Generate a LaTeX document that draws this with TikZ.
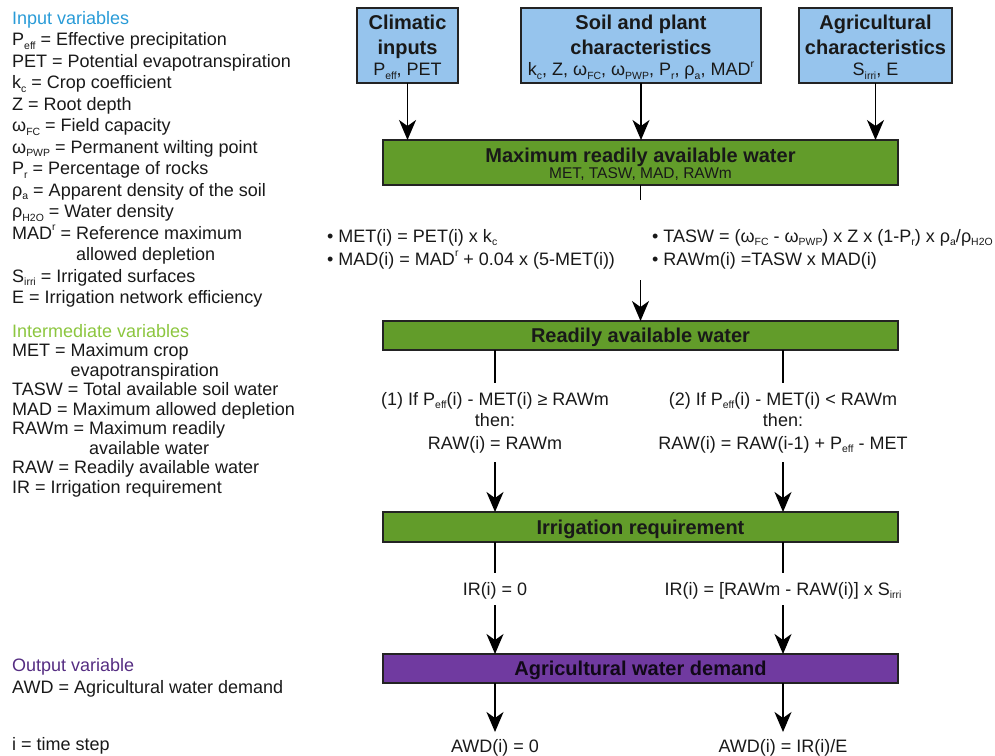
\documentclass[tikz,border=0pt]{standalone}
\usepackage{fontspec}
\usepackage{graphicx}
\setmainfont{Liberation Sans}
\usetikzlibrary{arrows.meta}
\definecolor{titleblue}{RGB}{41,155,215}
\definecolor{titlegreen}{RGB}{140,198,63}
\definecolor{titlepurple}{RGB}{85,45,130}
\definecolor{boxblue}{RGB}{150,196,237}
\definecolor{boxgreen}{RGB}{98,156,42}
\definecolor{boxpurple}{RGB}{112,58,160}
\definecolor{boxline}{RGB}{35,35,35}
\definecolor{txt}{RGB}{25,25,25}
\newcommand\lsub[1]{\raisebox{-0.22em}{\scalebox{0.58}{#1}}}
\newcommand\lsup[1]{\raisebox{0.46em}{\scalebox{0.58}{#1}}}
\newcommand\lrow[3]{\node[lt] (#1) at (12,#2) {#3};}
\begin{document}
\begin{tikzpicture}[x=1pt,y=-1pt,
  lt/.style={anchor=base west,inner sep=0pt,text=txt,font=\fontsize{18}{21}\selectfont},
  ct/.style={anchor=base,inner sep=0pt,text=txt,font=\fontsize{18}{21}\selectfont},
  bt/.style={anchor=base,inner sep=0pt,text=txt,font=\fontsize{20}{24}\selectfont\bfseries},
  flowbox/.style={draw=boxline,line width=1.8pt,inner sep=0pt,outer sep=0pt,anchor=north west},
  ln/.style={line width=1.6pt},
  arr/.style={line width=1.6pt,-{Stealth[length=20pt,width=17pt,inset=6pt]}},
]
\useasboundingbox (0,0) rectangle (995,755);

% ---------- left legend ----------
\lrow{i0}{24}{\color{titleblue}Input variables}
\lrow{i1}{45.5}{P\lsub{eff} = Effective precipitation}
\lrow{i2}{67}{PET = Potential evapotranspiration}
\lrow{i3}{88.5}{k\lsub{c} = Crop coefficient}
\lrow{i4}{110}{Z = Root depth}
\lrow{i5}{131.5}{ω\lsub{FC} = Field capacity}
\lrow{i6}{153}{ω\lsub{PWP} = Permanent wilting point}
\lrow{i7}{174.5}{P\lsub{r} = Percentage of rocks}
\lrow{i8}{196}{ρ\lsub{a} = Apparent density of the soil}
\lrow{i9}{217.5}{ρ\lsub{H2O} = Water density}
\lrow{i10}{239}{MAD\lsup{r} = Reference maximum}
\lrow{i11}{260.5}{\phantom{MAD\lsup{r} = }allowed depletion}
\lrow{i12}{282}{S\lsub{irri} = Irrigated surfaces}
\lrow{i13}{303.5}{E = Irrigation network efficiency}

\lrow{m0}{337}{\color{titlegreen}Intermediate variables}
\lrow{m1}{356.5}{MET = Maximum crop}
\lrow{m2}{376}{\phantom{MET = }evapotranspiration}
\lrow{m3}{395.5}{TASW = Total available soil water}
\lrow{m4}{415}{MAD = Maximum allowed depletion}
\lrow{m5}{434.5}{RAWm = Maximum readily}
\lrow{m6}{454}{\phantom{RAWm = }available water}
\lrow{m7}{473.5}{RAW = Readily available water}
\lrow{m8}{493}{IR = Irrigation requirement}

\lrow{o0}{671}{\color{titlepurple}Output variable}
\lrow{o1}{693}{AWD = Agricultural water demand}
\lrow{o2}{750.5}{i = time step}

% ---------- top boxes ----------
\node[flowbox,fill=boxblue,minimum width=101pt,minimum height=75pt] (clim) at (357,8) {};
\node[flowbox,fill=boxblue,minimum width=240pt,minimum height=75pt] (soil) at (521,8) {};
\node[flowbox,fill=boxblue,minimum width=153pt,minimum height=75pt] (agri) at (799,8) {};

\node[bt] (climA) at (clim.center |- 0,29.5) {Climatic};
\node[bt] (climB) at (clim.center |- 0,54) {inputs};
\node[ct] (climC) at (clim.center |- 0,75.5) {P\lsub{eff}, PET};

\node[bt] (soilA) at (soil.center |- 0,29.5) {Soil and plant};
\node[bt] (soilB) at (soil.center |- 0,54) {characteristics};
\node[ct] (soilC) at (soil.center |- 0,75.5) {k\lsub{c}, Z, ω\lsub{FC}, ω\lsub{PWP}, P\lsub{r}, ρ\lsub{a}, MAD\lsup{r}};

\node[bt] (agriA) at (agri.center |- 0,29.5) {Agricultural};
\node[bt] (agriB) at (agri.center |- 0,54) {characteristics};
\node[ct] (agriC) at (agri.center |- 0,75.5) {S\lsub{irri}, E};

% ---------- process boxes ----------
\node[flowbox,fill=boxgreen,minimum width=515pt,minimum height=45pt] (g1) at (383,140) {};
\node[bt] (g1A) at (g1.center |- 0,162) {Maximum readily available water};
\node[ct,font=\fontsize{15.5}{18}\selectfont] (g1B) at (g1.center |- 0,178.5) {MET, TASW, MAD, RAWm};

\node[flowbox,fill=boxgreen,minimum width=515pt,minimum height=29pt] (g2) at (383,321) {};
\node[bt] (g2A) at (g2.center |- 0,342.5) {Readily available water};

\node[flowbox,fill=boxgreen,minimum width=515pt,minimum height=30pt] (g3) at (383,512) {};
\node[bt] (g3A) at (g3.center |- 0,534) {Irrigation requirement};

\node[flowbox,fill=boxpurple,minimum width=515pt,minimum height=29pt] (pu) at (383,654) {};
\node[bt,text=black!85!boxpurple] (puA) at (pu.center |- 0,675.5) {Agricultural water demand};

% ---------- arrows from inputs ----------
\draw[arr] (clim.south) -- (clim.south |- g1.north);
\draw[arr] (soil.south) -- (soil.south |- g1.north);
\draw[arr] (agri.south) -- (agri.south |- g1.north);

% ---------- equations block ----------
\coordinate (s1) at (g1.south |- 0,200);
\coordinate (s2) at (g1.south |- 0,280);
\draw[ln] (g1.south) -- (s1);
\node[lt] (e1) at (327,242) {• MET(i) = PET(i) x k\lsub{c}};
\node[lt] (e2) at (327,265) {• MAD(i) = MAD\lsup{r} + 0.04 x (5-MET(i))};
\node[lt] (e3) at (652,242) {• TASW = (ω\lsub{FC} - ω\lsub{PWP}) x Z x (1-P\lsub{r}) x ρ\lsub{a}/ρ\lsub{H2O}};
\node[lt] (e4) at (652,265) {• RAWm(i) =TASW x MAD(i)};
\draw[arr] (s2) -- (s2 |- g2.north);

% ---------- branches ----------
\coordinate (bl) at (495,0);
\coordinate (br) at (783,0);
\coordinate (bl1) at (495,383);
\coordinate (br1) at (783,383);
\coordinate (bl2) at (495,462);
\coordinate (br2) at (783,462);
\draw[ln] (g2.south -| bl) -- (bl1);
\draw[ln] (g2.south -| br) -- (br1);
\node[ct] (c1a) at (495,405) {(1) If P\lsub{eff}(i) - MET(i) ≥ RAWm};
\node[ct] (c1b) at (495,426) {then:};
\node[ct] (c1c) at (495,449) {RAW(i) = RAWm};
\node[ct] (c2a) at (783,405) {(2) If P\lsub{eff}(i) - MET(i) < RAWm};
\node[ct] (c2b) at (783,426) {then:};
\node[ct] (c2c) at (783,449) {RAW(i) = RAW(i-1) + P\lsub{eff} - MET};
\draw[arr] (bl2) -- (bl2 |- g3.north);
\draw[arr] (br2) -- (br2 |- g3.north);

\coordinate (bl3) at (495,573);
\coordinate (br3) at (783,573);
\coordinate (bl4) at (495,605);
\coordinate (br4) at (783,605);
\draw[ln] (g3.south -| bl) -- (bl3);
\draw[ln] (g3.south -| br) -- (br3);
\node[ct] (ir1) at (495,595) {IR(i) = 0};
\node[ct] (ir2) at (783,595) {IR(i) = [RAWm - RAW(i)] x S\lsub{irri}};
\draw[arr] (bl4) -- (bl4 |- pu.north);
\draw[arr] (br4) -- (br4 |- pu.north);

\coordinate (bl5) at (495,732);
\coordinate (br5) at (783,732);
\draw[arr] (pu.south -| bl) -- (bl5);
\draw[arr] (pu.south -| br) -- (br5);
\node[ct] (aw1) at (495,752) {AWD(i) = 0};
\node[ct] (aw2) at (783,752) {AWD(i) = IR(i)/E};
\end{tikzpicture}
\end{document}
